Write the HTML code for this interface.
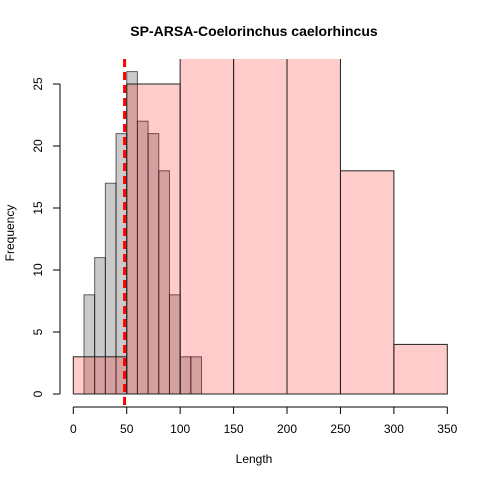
<!DOCTYPE html>
<html><head><meta charset="utf-8"><style>
body{margin:0;background:#fff}
svg{display:block;font-family:"Liberation Sans",Arial,sans-serif}
</style></head><body>
<svg id="chart" width="480" height="480" viewBox="0 0 480 480">
<rect width="480" height="480" fill="#fff"/>
<text x="254" y="36" text-anchor="middle" font-size="14" font-weight="bold">SP-ARSA-Coelorinchus caelorhincus</text>
<text x="254" y="463" text-anchor="middle" font-size="12">Length</text>
<text transform="translate(14,233) rotate(-90)" text-anchor="middle" font-size="12">Frequency</text>
<defs><clipPath id="plotclip"><rect x="60" y="59" width="400" height="340"/></clipPath></defs>
<g id="bars" clip-path="url(#plotclip)"></g>
<g id="axes"></g>
</svg>
<script>
const grayStarts = [10,20,30,40,50,60,70,80,90,100,110];
const grayCounts = [8,11,17,21,26,22,21,18,8,3,3];
const grayWidth = 10;
const redStarts = [0,50,100,150,200,250,300];
const redCounts = [3,25,40,40,40,18,4];
const redWidth = 50;
const xTicks = [0,50,100,150,200,250,300,350];
const yTicks = [0,5,10,15,20,25];
const cutoff = 48;

const NS="http://www.w3.org/2000/svg";
const xs = v => 73.3 + v*(374/350);
const ys = v => 394 - v*(310/25);
const bars=document.getElementById('bars'), axes=document.getElementById('axes');
function mk(tag,attrs,parent){const e=document.createElementNS(NS,tag);for(const k in attrs)e.setAttribute(k,attrs[k]);parent.appendChild(e);return e;}

grayStarts.forEach((s,i)=>{
  const r=mk('rect',{x:xs(s),y:ys(grayCounts[i]),width:xs(s+grayWidth)-xs(s),height:ys(0)-ys(grayCounts[i]),fill:'rgba(128,128,128,0.42)',stroke:'rgba(0,0,0,0.6)','stroke-width':1},bars);
  
  
});
redStarts.forEach((s,i)=>{
  const r=mk('rect',{x:xs(s),y:ys(redCounts[i]),width:xs(s+redWidth)-xs(s),height:ys(0)-ys(redCounts[i]),fill:'rgba(255,0,0,0.2)',stroke:'#222','stroke-width':1},bars);
  
  
});
const cl=mk('line',{x1:xs(cutoff),x2:xs(cutoff),y1:59,y2:406,stroke:'#ff0000','stroke-width':3,'stroke-dasharray':'8,5'},axes);



const xa=mk('line',{x1:xs(0),x2:xs(350),y1:407,y2:407,stroke:'#000'},axes);


xTicks.forEach(t=>{
  mk('line',{x1:xs(t),x2:xs(t),y1:407,y2:414,stroke:'#000'},axes);
  const tx=mk('text',{x:xs(t),y:433,'text-anchor':'middle','font-size':12},axes);
  tx.textContent=t;
  
  
});
const ya=mk('line',{x1:60,x2:60,y1:ys(0),y2:ys(25),stroke:'#000'},axes);


yTicks.forEach(t=>{
  mk('line',{x1:53,x2:60,y1:ys(t),y2:ys(t),stroke:'#000'},axes);
  const tx=mk('text',{x:0,y:0,'text-anchor':'middle','font-size':12,transform:`translate(42,${ys(t)}) rotate(-90)`},axes);
  tx.textContent=t;
  
  
});
</script>
</body></html>
